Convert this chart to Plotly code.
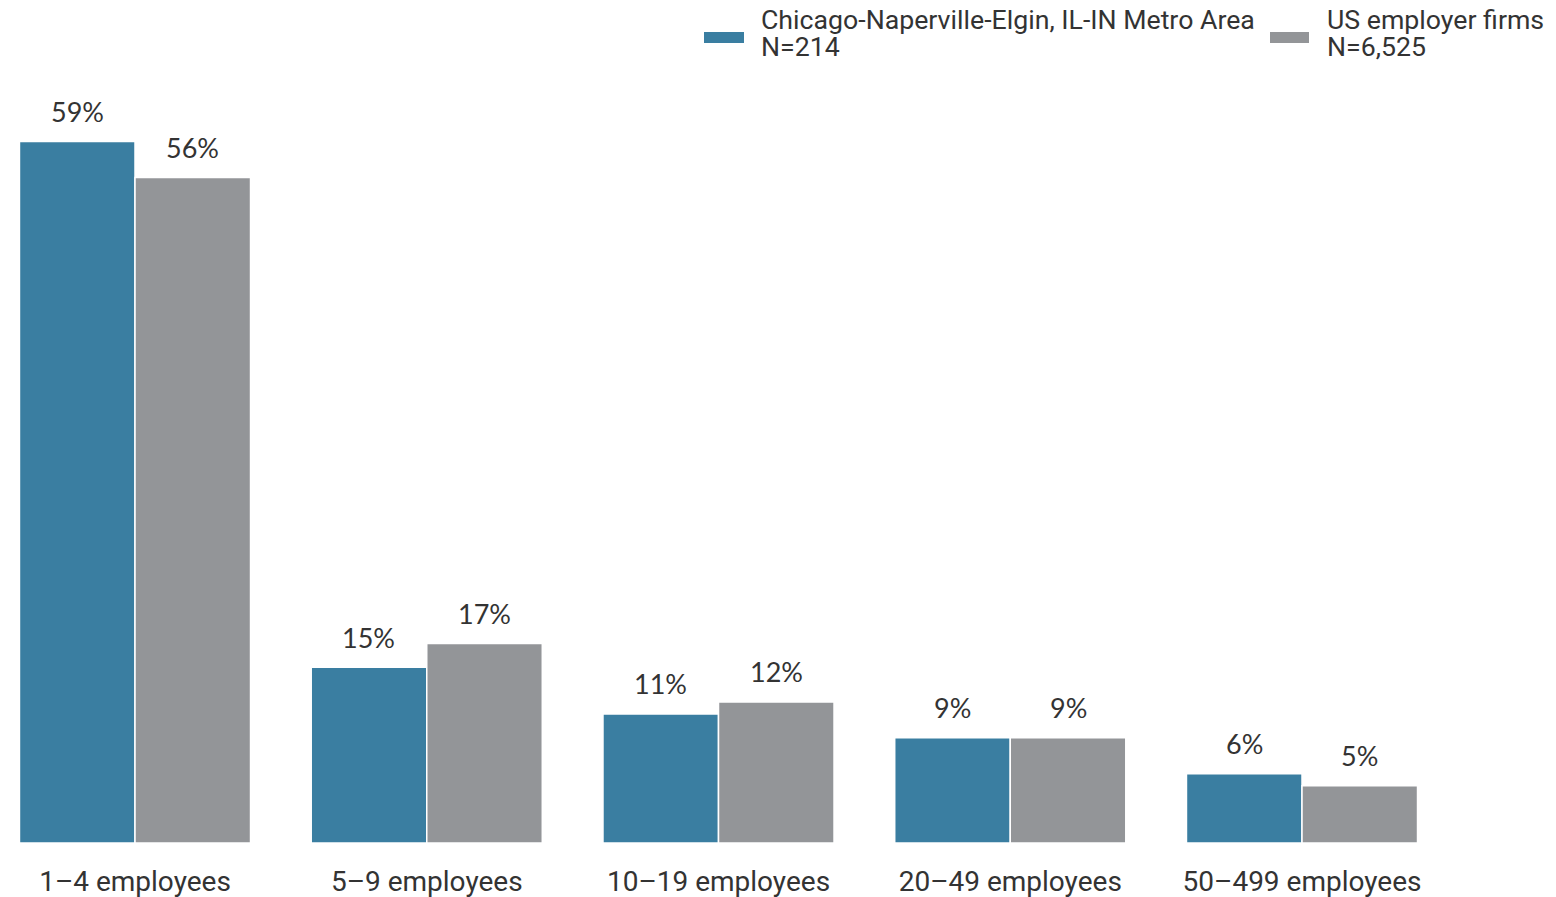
import plotly.graph_objects as go

categories = ["1–4 employees", "5–9 employees", "10–19 employees", "20–49 employees", "50–499 employees"]
chicago_values = [58.7, 14.7, 10.8, 8.8, 5.8]
us_values = [55.7, 16.7, 11.8, 8.8, 4.8]
series_names = ["Chicago-Naperville-Elgin, IL-IN Metro Area", "US employer firms"]
series_n = ["N=214", "N=6,525"]

BLUE = "#3a7ea1"
GRAY = "#939598"
TEXT = "#333333"

W, H = 1556, 897
ML, MR, MT, MB = 19, 11, 60, H - 843
pw = W - ML - MR
ph = H - MT - MB
bargap = 0.208
px_per_cat = 291.75
x0 = -(135 - ML) / px_per_cat
x1 = x0 + pw / px_per_cat
px_per_unit = 11.95
ymax = ph / px_per_unit

fig = go.Figure()
for name, vals, col in [(series_names[0], chicago_values, BLUE), (series_names[1], us_values, GRAY)]:
    fig.add_trace(go.Bar(
        x=categories, y=vals, name=name,
        marker=dict(color=col, line=dict(color="white", width=1.5)),
        showlegend=False, hoverinfo="x+y",
    ))

off = (1 - bargap) / 4
for vals, sgn in [(chicago_values, -1), (us_values, 1)]:
    for i, v in enumerate(vals):
        fig.add_annotation(
            x=i + sgn * off, y=v, xref="x", yref="y",
            text=f"{round(v)}%", showarrow=False,
            yanchor="middle", yshift=30,
            font=dict(family="Lato", size=27, color=TEXT),
        )

# Legend (custom, to mimic wide swatches); coordinates given in page pixels
def px2paper_x(px):
    return (px - ML) / pw

def px2paper_y(py):
    return (H - MB - py) / ph

legend_items = [
    (704, 744, 761, BLUE, series_names[0], series_n[0]),
    (1270, 1309, 1327, GRAY, series_names[1], series_n[1]),
]
for sx0, sx1, tx, col, name, n in legend_items:
    fig.add_shape(type="rect", xref="paper", yref="paper",
                  x0=px2paper_x(sx0), x1=px2paper_x(sx1),
                  y0=px2paper_y(43), y1=px2paper_y(32),
                  fillcolor=col, line=dict(width=0))
    for ty, txt in [(20, name), (47, n)]:
        fig.add_annotation(x=px2paper_x(tx), y=px2paper_y(ty), xref="paper", yref="paper",
                           text=txt, showarrow=False, xanchor="left", yanchor="middle",
                           xshift=-1, borderpad=0,
                           font=dict(family="Roboto", size=26.7, color=TEXT))

fig.update_layout(
    width=W, height=H,
    margin=dict(l=ML, r=MR, t=MT, b=MB, pad=0, autoexpand=False),
    plot_bgcolor="white", paper_bgcolor="white",
    barmode="group", bargap=bargap, bargroupgap=0,
    xaxis=dict(range=[x0, x1], showgrid=False, showline=False, zeroline=False,
               ticks="", ticklabelstandoff=19, automargin=False,
               tickfont=dict(family="Roboto", size=28, color=TEXT)),
    yaxis=dict(range=[0, ymax], visible=False, showgrid=False, zeroline=False,
               automargin=False),
    font=dict(family="Roboto", color=TEXT),
)

fig.write_html("out.html", config={"displayModeBar": False},
               post_script="document.body.style.margin='0';")
